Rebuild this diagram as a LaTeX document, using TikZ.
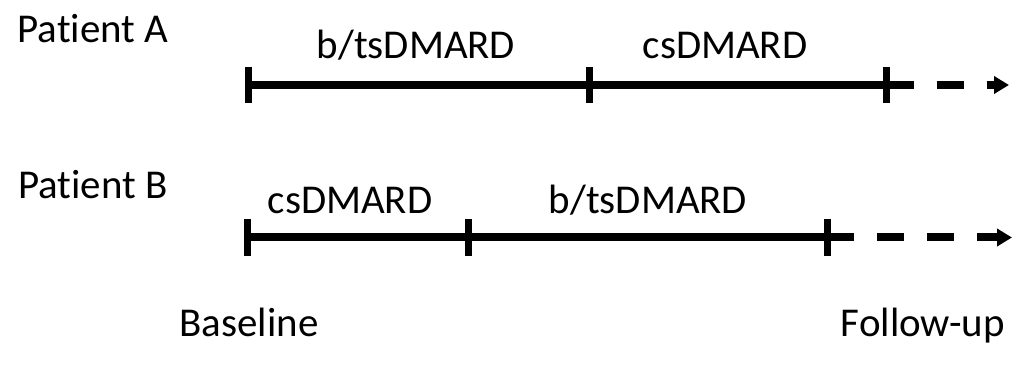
\documentclass[tikz,border=0pt]{standalone}
\usepackage{fontspec}
\setmainfont{Carlito}[Ligatures={NoCommon}]
\usepackage{tikz}
\usetikzlibrary{arrows.meta}

\begin{document}
\begin{tikzpicture}[
  every node/.style={font=\fontsize{23.3}{28}\selectfont, anchor=base, inner sep=0pt},
  timeline/.style={line width=0.16cm},
  tickmark/.style={line width=0.14cm},
  followup/.style={line width=0.16cm, dash pattern=on 0.54cm off 0.46cm, -{Triangle[length=0.3cm, width=0.34cm]}}]
\useasboundingbox (0,0) rectangle (20.32,7.3);
%patient A
\node (pA) at (1.86,6.44) {Patient A};
\coordinate (a0) at (4.96,5.6);
\coordinate (a1) at (11.78,5.6);
\coordinate (a2) at (17.73,5.6);
\coordinate (aend) at (20.18,5.6);
\draw [timeline] (a0) -- (a1) -- (a2);
\draw [followup] (a2) -- (aend);
\foreach \t in {a0,a1,a2}
  \draw [tickmark] ([yshift=0.36cm]\t) -- ([yshift=-0.36cm]\t);
\node (aB) at (8.32,6.12) {b/tsDMARD};
\node (aC) at (14.5,6.12) {csDMARD};
%patient B
\node (pB) at (1.86,3.34) {Patient B};
\coordinate (b0) at (4.94,2.55);
\coordinate (b1) at (9.36,2.55);
\coordinate (b2) at (16.54,2.55);
\coordinate (bend) at (20.24,2.55);
\draw [timeline] (b0) -- (b1) -- (b2);
\draw [followup] (b2) -- (bend);
\foreach \t in {b0,b1,b2}
  \draw [tickmark] ([yshift=0.36cm]\t) -- ([yshift=-0.36cm]\t);
\node (bC) at (7.0,3.04) {csDMARD};
\node (bB) at (12.96,3.04) {b/tsDMARD};
%notes
\node (base) at (4.98,0.58) {Baseline};
\node (fup) at (18.46,0.58) {Follow-up};
\end{tikzpicture}
\end{document}
